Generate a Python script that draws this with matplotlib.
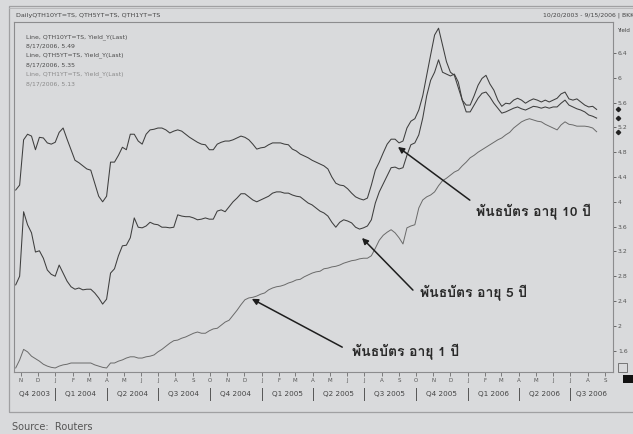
import matplotlib
matplotlib.use("Agg")
import matplotlib.pyplot as plt
from matplotlib import font_manager
from matplotlib.ft2font import FT2Font
from matplotlib.patches import Rectangle
from matplotlib.lines import Line2D
import matplotlib.transforms as mtransforms
import pandas as pd

# Weekly yield observations (Thursday closes), %
start_date = "2003-10-23"
yield_10y = [
    4.19, 4.27, 5.00, 5.09, 5.06, 4.84, 5.04, 5.03, 4.95, 4.93,
    4.96, 5.12, 5.19, 5.01, 4.84, 4.67, 4.63, 4.58, 4.53, 4.51,
    4.30, 4.09, 4.00, 4.09, 4.64, 4.64, 4.75, 4.88, 4.84, 5.09,
    5.09, 4.98, 4.93, 5.09, 5.16, 5.17, 5.19, 5.19, 5.16, 5.11,
    5.14, 5.16, 5.14, 5.09, 5.04, 5.00, 4.96, 4.93, 4.92, 4.84,
    4.84, 4.93, 4.96, 4.98, 4.98, 5.00, 5.03, 5.06, 5.04, 5.00,
    4.93, 4.85, 4.87, 4.88, 4.92, 4.95, 4.95, 4.95, 4.93, 4.92,
    4.85, 4.82, 4.77, 4.74, 4.71, 4.67, 4.64, 4.61, 4.58, 4.53,
    4.40, 4.30, 4.27, 4.26, 4.21, 4.14, 4.08, 4.05, 4.03, 4.06,
    4.27, 4.51, 4.64, 4.79, 4.93, 5.01, 5.01, 4.95, 4.98, 5.19,
    5.30, 5.34, 5.48, 5.71, 6.04, 6.37, 6.69, 6.80, 6.53, 6.26,
    6.09, 6.04, 5.84, 5.64, 5.56, 5.56, 5.71, 5.88, 5.99, 6.04,
    5.90, 5.80, 5.64, 5.54, 5.59, 5.58, 5.64, 5.67, 5.64, 5.59,
    5.63, 5.66, 5.64, 5.61, 5.64, 5.61, 5.64, 5.67, 5.74, 5.77,
    5.66, 5.64, 5.66, 5.61, 5.56, 5.53, 5.54, 5.49,
]
yield_5y = [
    2.66, 2.80, 3.84, 3.63, 3.50, 3.19, 3.21, 3.09, 2.90, 2.83,
    2.80, 2.98, 2.85, 2.72, 2.63, 2.59, 2.61, 2.58, 2.59, 2.59,
    2.53, 2.45, 2.35, 2.43, 2.85, 2.92, 3.13, 3.29, 3.30, 3.42,
    3.74, 3.59, 3.58, 3.61, 3.67, 3.64, 3.63, 3.59, 3.59, 3.58,
    3.59, 3.79, 3.77, 3.76, 3.76, 3.74, 3.71, 3.72, 3.74, 3.72,
    3.72, 3.85, 3.87, 3.84, 3.92, 4.00, 4.06, 4.13, 4.13, 4.08,
    4.03, 4.00, 4.03, 4.06, 4.09, 4.14, 4.16, 4.16, 4.14, 4.14,
    4.11, 4.09, 4.08, 4.03, 3.98, 3.95, 3.90, 3.85, 3.82, 3.77,
    3.67, 3.59, 3.67, 3.71, 3.69, 3.66, 3.59, 3.56, 3.58, 3.61,
    3.71, 3.98, 4.16, 4.29, 4.42, 4.55, 4.56, 4.53, 4.55, 4.75,
    4.92, 4.95, 5.08, 5.35, 5.71, 5.96, 6.09, 6.29, 6.09, 6.06,
    6.03, 6.06, 5.93, 5.64, 5.45, 5.45, 5.56, 5.67, 5.75, 5.77,
    5.69, 5.59, 5.51, 5.43, 5.45, 5.48, 5.51, 5.53, 5.50, 5.48,
    5.51, 5.54, 5.53, 5.51, 5.53, 5.51, 5.53, 5.53, 5.59, 5.64,
    5.56, 5.53, 5.50, 5.48, 5.45, 5.40, 5.38, 5.35,
]
yield_1y = [
    1.32, 1.45, 1.62, 1.58, 1.51, 1.47, 1.43, 1.38, 1.35, 1.33,
    1.32, 1.35, 1.37, 1.38, 1.40, 1.40, 1.40, 1.40, 1.40, 1.40,
    1.37, 1.35, 1.33, 1.32, 1.40, 1.40, 1.43, 1.45, 1.48, 1.50,
    1.50, 1.48, 1.48, 1.50, 1.51, 1.53, 1.58, 1.62, 1.67, 1.72,
    1.76, 1.77, 1.80, 1.82, 1.85, 1.88, 1.90, 1.88, 1.88, 1.92,
    1.95, 1.96, 2.01, 2.06, 2.09, 2.17, 2.25, 2.34, 2.42, 2.45,
    2.46, 2.48, 2.51, 2.53, 2.58, 2.61, 2.63, 2.64, 2.66, 2.69,
    2.71, 2.74, 2.75, 2.79, 2.82, 2.85, 2.87, 2.88, 2.92, 2.93,
    2.95, 2.96, 2.98, 3.01, 3.03, 3.05, 3.06, 3.08, 3.09, 3.09,
    3.13, 3.25, 3.38, 3.46, 3.51, 3.55, 3.50, 3.42, 3.32, 3.58,
    3.61, 3.63, 3.90, 4.03, 4.08, 4.11, 4.16, 4.26, 4.34, 4.38,
    4.43, 4.48, 4.51, 4.58, 4.64, 4.71, 4.75, 4.80, 4.84, 4.88,
    4.92, 4.96, 5.00, 5.03, 5.08, 5.12, 5.19, 5.24, 5.29, 5.32,
    5.34, 5.32, 5.30, 5.29, 5.25, 5.22, 5.19, 5.16, 5.24, 5.29,
    5.25, 5.24, 5.22, 5.22, 5.22, 5.21, 5.19, 5.13,
]

legend_lines = [
    "Line, QTH10YT=TS, Yield_Y(Last)", "8/17/2006, 5.49",
    "Line, QTH5YT=TS, Yield_Y(Last)", "8/17/2006, 5.35",
    "Line, QTH1YT=TS, Yield_Y(Last)", "8/17/2006, 5.13",
]
last_values = [5.49, 5.35, 5.13]
y_ticks = [1.6, 2.0, 2.4, 2.8, 3.2, 3.6, 4.0, 4.4, 4.8, 5.2, 5.6, 6.0, 6.4]
quarters = ["Q4 2003", "Q1 2004", "Q2 2004", "Q3 2004", "Q4 2004", "Q1 2005",
            "Q2 2005", "Q3 2005", "Q4 2005", "Q1 2006", "Q2 2006", "Q3 2006"]
labels_th = ["พันธบัตร อายุ 10 ปี", "พันธบัตร อายุ 5 ปี", "พันธบัตร อายุ 1 ปี"]

dates = pd.date_range(start_date, periods=len(yield_10y), freq="7D")
x_start, x_end = pd.Timestamp("2003-10-20"), pd.Timestamp("2006-09-15")


def thai_family():
    for f in font_manager.fontManager.ttflist:
        try:
            cmap = FT2Font(f.fname).get_charmap()
        except Exception:
            continue
        if 0x0E1E in cmap and 0x0E1A in cmap:
            return f.name
    return None


thai = thai_family()
thai_fams = ([thai] if thai else []) + ["DejaVu Sans"]

BG = "#d9dadc"
W, H = 633, 434

fig = plt.figure(figsize=(W / 100, H / 100), dpi=100)
fig.patch.set_facecolor(BG)


def fx(px):
    return px / W


def fy(py):
    return 1 - py / H


# frame around the chart block and header strip
fig.add_artist(Rectangle((fx(9), fy(412)), fx(700), fy(6) - fy(412),
                         transform=fig.transFigure, fill=False,
                         ec="#a0a0a2", lw=0.9))
fig.add_artist(Line2D([fx(9), 1], [fy(8), fy(8)], transform=fig.transFigure,
                      color="#b4b4b6", lw=0.6))

fig.text(fx(16), fy(15), "DailyQTH10YT=TS, QTH5YT=TS, QTH1YT=TS",
         fontsize=4.6, color="#444", va="center", ha="left")
fig.text(fx(634), fy(15), "10/20/2003 - 9/15/2006 | BKK",
         fontsize=4.4, color="#444", va="center", ha="right")

ax = fig.add_axes([fx(14), fy(372), (613 - 14) / W, (372 - 22) / H])
ax.set_facecolor(BG)
ax.plot(dates, yield_10y, color="#3e3e3e", lw=0.75)
ax.plot(dates, yield_5y, color="#3e3e3e", lw=0.75)
ax.plot(dates, yield_1y, color="#6a6a6a", lw=0.7)
ax.set_xlim(x_start, x_end)
ax.set_ylim(1.255, 6.90)

for s in ax.spines.values():
    s.set_color("#8c8c8e")
    s.set_linewidth(0.8)

ax.yaxis.tick_right()
ax.set_yticks(y_ticks)
ax.set_yticklabels([f"{v:g}" for v in y_ticks])
ax.tick_params(axis="y", length=2.5, width=0.6, colors="#555", labelsize=4.4, pad=1)

months = pd.date_range("2003-11-01", "2006-09-01", freq="MS")
ax.set_xticks(months)
ax.set_xticklabels([m.strftime("%b")[0] for m in months])
ax.tick_params(axis="x", length=3, width=0.5, colors="#555", labelsize=4, pad=1.5)

# quarter row under the month letters
xq = mtransforms.blended_transform_factory(ax.transData, ax.transAxes)
q_starts = pd.date_range("2003-10-01", "2006-07-01", freq="QS")
for i, (q0, name) in enumerate(zip(q_starts, quarters)):
    q1 = q0 + pd.offsets.QuarterBegin(startingMonth=1)
    a = max(q0, x_start)
    b = min(q1, x_end)
    ax.text(a + (b - a) / 2, -0.064, name, transform=xq, fontsize=5.2,
            color="#444", ha="center", va="center", clip_on=False)
    if i > 0:
        ax.plot([q0, q0], [-0.045, -0.079], transform=xq, color="#555",
                lw=0.7, clip_on=False)

# legend block
for i, line in enumerate(legend_lines):
    fig.text(fx(26), fy(37 + 9.3 * i), line, fontsize=4.4,
             color="#4a4a4a" if i < 4 else "#8a8a8a", va="center", ha="left")

fig.text(fx(617), fy(30), "Yield", fontsize=4, color="#444", va="center", ha="left")

# current-value markers on the right axis
xm = mtransforms.blended_transform_factory(ax.transAxes, ax.transData)
for v in last_values:
    ax.plot([1.008], [v], transform=xm, marker="D", ms=2.2, color="#222",
            clip_on=False, lw=0)

fig.add_artist(Rectangle((fx(618), fy(372)), fx(9), fy(363) - fy(372),
                         transform=fig.transFigure, fill=False, ec="#666", lw=0.6))
fig.add_artist(Rectangle((fx(623), fy(383)), fx(12), fy(375) - fy(383),
                         transform=fig.transFigure, fc="#111", ec="none"))

# annotations
arrow_kw = dict(arrowstyle="-|>", color="#1e1e1e", lw=1.1, mutation_scale=9,
                shrinkA=0, shrinkB=0)
ax.annotate("", xy=(0.641, 0.643), xytext=(0.761, 0.491),
            xycoords="axes fraction", arrowprops=arrow_kw)
ax.annotate("", xy=(0.581, 0.383), xytext=(0.666, 0.234),
            xycoords="axes fraction", arrowprops=arrow_kw)
ax.annotate("", xy=(0.397, 0.209), xytext=(0.548, 0.071),
            xycoords="axes fraction", arrowprops=arrow_kw)

for (x, y), txt in zip([(0.771, 0.457), (0.678, 0.226), (0.564, 0.057)], labels_th):
    ax.text(x, y, txt, transform=ax.transAxes, fontsize=10, fontweight="bold",
            color="#2a2a2a", ha="left", va="center", family=thai_fams)

fig.text(fx(12), fy(427), "Source:  Routers", fontsize=7, color="#555",
         ha="left", va="center")

fig.savefig("out.png", dpi=100, facecolor=BG)
